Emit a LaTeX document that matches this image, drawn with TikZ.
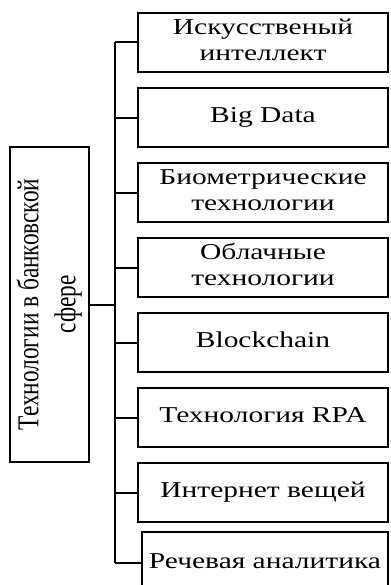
\documentclass[tikz,border=0pt]{standalone}
\usepackage{fontspec}
\setmainfont{Liberation Serif}
\usepackage{graphicx}
\newcommand{\stx}[1]{\scalebox{1.3}[1]{\begin{tabular}{@{}c@{}}#1\end{tabular}}}
\begin{document}
\begin{tikzpicture}[x=0.75pt,y=-0.75pt,
  tbox/.style={draw, line width=1.5pt, inner sep=0pt, minimum width=187.5pt, minimum height=44.25pt,
    font=\fontsize{17}{19.5}\selectfont},
  lbox/.style={draw, line width=1.5pt, inner sep=0pt, minimum width=59.25pt, minimum height=236.25pt,
    font=\fontsize{17.5}{21.4}\selectfont},
  conn/.style={line width=1.5pt}]
\clip (0,0) rectangle (390,585);
\node[lbox] (L) at (49.5,304.5) {\scalebox{1.3}[1]{\rotatebox{90}{\begin{tabular}{@{}c@{}}Технологии в банковской\\сфере\end{tabular}}}};
\node[tbox] (b1) at (263,42.5) {\stx{Искусственый\\интеллект}};
\node[tbox] (b2) at (263,117.5) {\stx{Big Data}};
\node[tbox] (b3) at (263,192.5) {\stx{Биометрические\\технологии}};
\node[tbox] (b4) at (263,267.5) {\stx{Облачные\\технологии}};
\node[tbox] (b5) at (263,342.5) {\stx{Blockchain}};
\node[tbox] (b6) at (263,417.5) {\stx{Технология RPA}};
\node[tbox] (b7) at (263,492.5) {\stx{Интернет вещей}};
\node[tbox, minimum width=184.5pt, minimum height=46.5pt] (b8) at (265,563) {\stx{Речевая аналитика}};
\coordinate (bus) at (115,0);
\draw[conn] (b1.west -| bus) -- (b8.west -| bus);
\foreach \b in {b1,b2,b3,b4,b5,b6,b7,b8}
  \draw[conn] (\b.west) -- (\b.west -| bus);
\draw[conn] (L.east) -- (L.east -| bus);
\end{tikzpicture}
\end{document}
